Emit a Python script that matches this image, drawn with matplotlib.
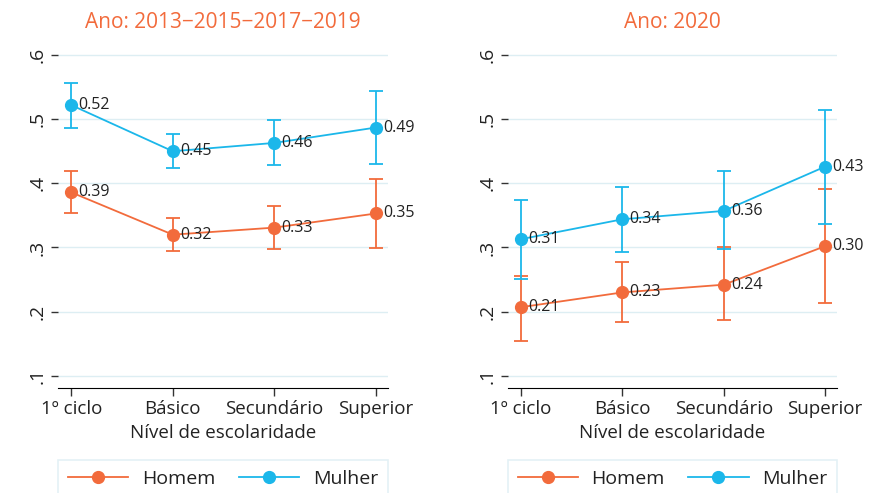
import numpy as np
import matplotlib
matplotlib.use('Agg')
import matplotlib.pyplot as plt

plt.rcParams['font.family'] = ['Open Sans', 'DejaVu Sans']

categories = ['1º ciclo', 'Básico', 'Secundário', 'Superior']
titles = ['Ano: 2013−2015−2017−2019', 'Ano: 2020']

# panel 1: 2013-2015-2017-2019
homem_1 = [0.386, 0.320, 0.331, 0.353]
homem_1_lo = [0.353, 0.294, 0.297, 0.299]
homem_1_hi = [0.420, 0.346, 0.365, 0.407]
mulher_1 = [0.522, 0.450, 0.463, 0.487]
mulher_1_lo = [0.487, 0.424, 0.428, 0.430]
mulher_1_hi = [0.557, 0.477, 0.499, 0.544]

# panel 2: 2020
homem_2 = [0.207, 0.230, 0.242, 0.302]
homem_2_lo = [0.155, 0.184, 0.187, 0.214]
homem_2_hi = [0.255, 0.278, 0.300, 0.391]
mulher_2 = [0.313, 0.344, 0.357, 0.426]
mulher_2_lo = [0.251, 0.293, 0.297, 0.337]
mulher_2_hi = [0.374, 0.394, 0.419, 0.515]

yticks = [0.1, 0.2, 0.3, 0.4, 0.5, 0.6]
ytick_labels = ['.1', '.2', '.3', '.4', '.5', '.6']

orange = '#F26B3C'
blue = '#1BB7EA'
grid_col = '#DDEEF3'
txt_col = '#222222'

fig = plt.figure(figsize=(8.71, 4.93), dpi=100)
ax1 = fig.add_axes([0.0666, 0.213, 0.379, 0.7014])
ax2 = fig.add_axes([0.5832, 0.213, 0.378, 0.7014])

panels = [
    (ax1, homem_1, homem_1_lo, homem_1_hi, mulher_1, mulher_1_lo, mulher_1_hi),
    (ax2, homem_2, homem_2_lo, homem_2_hi, mulher_2, mulher_2_lo, mulher_2_hi),
]

x = np.arange(len(categories))
for i, (ax, h, hlo, hhi, m, mlo, mhi) in enumerate(panels):
    for vals, lo, hi, col, name in [(h, hlo, hhi, orange, 'Homem'), (m, mlo, mhi, blue, 'Mulher')]:
        vals = np.array(vals)
        err = [vals - np.array(lo), np.array(hi) - vals]
        ax.errorbar(x, vals, yerr=err, fmt='none', ecolor=col, elinewidth=1.3,
                    capsize=5, capthick=1.3, zorder=3)
        ax.plot(x, vals, color=col, lw=1.3, marker='o', ms=8.5, label=name, zorder=4)
        for xi, v in zip(x, vals):
            ax.text(xi + 0.07, v, f'{v:.2f}', fontsize=11.5, color=txt_col,
                    va='center', ha='left', zorder=5)

    ax.set_xlim(-0.13, 3.12)
    ax.set_ylim(0.081, 0.62)
    ax.set_yticks(yticks)
    ax.set_yticklabels(ytick_labels, rotation=90, va='center', fontsize=14, color=txt_col)
    ax.set_xticks(x)
    ax.set_xticklabels(categories, fontsize=13.5, color=txt_col)
    ax.set_xlabel('Nível de escolaridade', fontsize=13.5, labelpad=4, color=txt_col)
    ax.set_title(titles[i], color=orange, fontsize=15, pad=10)
    ax.grid(axis='y', color=grid_col, lw=1)
    ax.set_axisbelow(True)
    for s in ['top', 'right', 'left']:
        ax.spines[s].set_visible(False)
    ax.spines['bottom'].set_color('black')
    ax.tick_params(axis='y', length=5, width=1, pad=3, color='#333333')
    ax.tick_params(axis='x', length=6, width=1, pad=3, color='#333333')

    leg = ax.legend(loc='upper center', bbox_to_anchor=(0.5, -0.208), ncol=2,
                    fontsize=14, frameon=True, fancybox=False, handlelength=3.1,
                    columnspacing=1.2, borderpad=0.5, handletextpad=0.7,
                    borderaxespad=0)
    leg.get_frame().set_edgecolor(grid_col)
    leg.get_frame().set_linewidth(1.2)
    for t in leg.get_texts():
        t.set_color(txt_col)

fig.savefig('out.png', dpi=100)
